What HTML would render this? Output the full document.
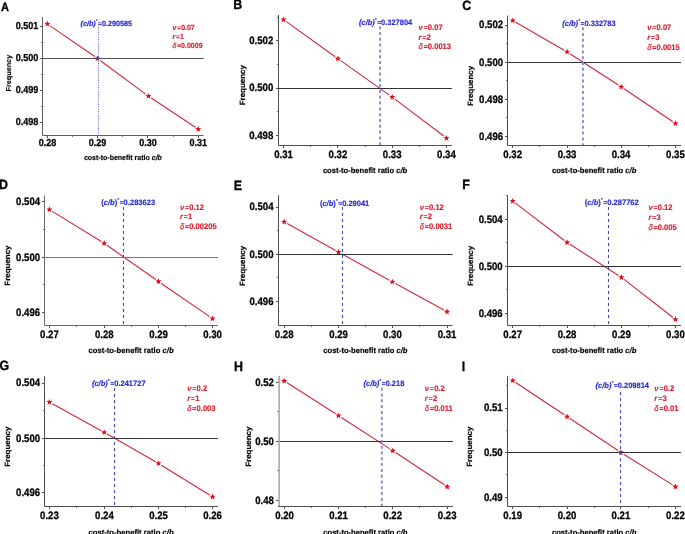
<!DOCTYPE html>
<html><head><meta charset="utf-8"><style>
html,body{margin:0;padding:0;background:#fff;}
svg{display:block;font-family:"Liberation Sans",sans-serif;text-rendering:geometricPrecision;}
</style></head><body>
<svg width="685" height="534" viewBox="0 0 685 534">
<defs><filter id="bl" x="0" y="0" width="100%" height="100%"><feGaussianBlur stdDeviation="0.4"/></filter></defs>
<rect width="685" height="534" fill="#fff"/>
<g filter="url(#bl)">
<rect width="685" height="534" fill="#fff"/>
<text transform="translate(0.90,11.40) scale(1,1.09)" font-size="11.0" font-weight="bold" fill="#000" stroke="#000" stroke-width="0.3">A</text>
<path d="M50.20,25.83L94.70,56.57M100.23,60.52L145.67,94.08M151.23,97.98L195.37,127.32" fill="none" stroke="#d0283a" stroke-width="1.1"/>
<polygon points="47.40,20.70 48.25,22.73 50.44,22.91 48.78,24.35 49.28,26.49 47.40,25.35 45.52,26.49 46.02,24.35 44.36,22.91 46.55,22.73" fill="#e0101e"/>
<polygon points="97.50,55.30 98.35,57.33 100.54,57.51 98.88,58.95 99.38,61.09 97.50,59.95 95.62,61.09 96.12,58.95 94.46,57.51 96.65,57.33" fill="#e0101e"/>
<polygon points="148.40,92.90 149.25,94.93 151.44,95.11 149.78,96.55 150.28,98.69 148.40,97.55 146.52,98.69 147.02,96.55 145.36,95.11 147.55,94.93" fill="#e0101e"/>
<polygon points="198.20,126.00 199.05,128.03 201.24,128.21 199.58,129.65 200.08,131.79 198.20,130.65 196.32,131.79 196.82,129.65 195.16,128.21 197.35,128.03" fill="#e0101e"/>
<line x1="42.5" y1="58.5" x2="203.6" y2="58.5" stroke="#505050" stroke-width="1"/>
<line x1="98.5" y1="27" x2="98.5" y2="135.5" stroke="#4848e0" stroke-width="0.9" stroke-dasharray="1 1.4"/>
<path d="M42.5,17 V135.5 H203.6" fill="none" stroke="#606060" stroke-width="1"/>
<line x1="47.5" x2="47.5" y1="135.5" y2="138.0" stroke="#505050" stroke-width="1"/>
<text transform="translate(47.40,146.10) scale(1,1.12)" font-size="9.0" font-weight="bold" fill="#000" stroke="#000" stroke-width="0.25" text-anchor="middle">0.28</text>
<line x1="97.5" x2="97.5" y1="135.5" y2="138.0" stroke="#505050" stroke-width="1"/>
<text transform="translate(97.50,146.10) scale(1,1.12)" font-size="9.0" font-weight="bold" fill="#000" stroke="#000" stroke-width="0.25" text-anchor="middle">0.29</text>
<line x1="147.5" x2="147.5" y1="135.5" y2="138.0" stroke="#505050" stroke-width="1"/>
<text transform="translate(147.90,146.10) scale(1,1.12)" font-size="9.0" font-weight="bold" fill="#000" stroke="#000" stroke-width="0.25" text-anchor="middle">0.30</text>
<line x1="198.5" x2="198.5" y1="135.5" y2="138.0" stroke="#505050" stroke-width="1"/>
<text transform="translate(198.20,146.10) scale(1,1.12)" font-size="9.0" font-weight="bold" fill="#000" stroke="#000" stroke-width="0.25" text-anchor="middle">0.31</text>
<line x1="72.5" y1="135.5" x2="72.5" y2="137.0" stroke="#505050" stroke-width="0.8"/>
<line x1="122.5" y1="135.5" x2="122.5" y2="137.0" stroke="#505050" stroke-width="0.8"/>
<line x1="173.5" y1="135.5" x2="173.5" y2="137.0" stroke="#505050" stroke-width="0.8"/>
<line x1="42.5" y1="26.5" x2="40.0" y2="26.5" stroke="#505050" stroke-width="1"/>
<text transform="translate(38.20,28.80) scale(1,1.12)" font-size="9.0" font-weight="bold" fill="#000" stroke="#000" stroke-width="0.25" text-anchor="end">0.501</text>
<line x1="42.5" y1="58.5" x2="40.0" y2="58.5" stroke="#505050" stroke-width="1"/>
<text transform="translate(38.20,60.90) scale(1,1.12)" font-size="9.0" font-weight="bold" fill="#000" stroke="#000" stroke-width="0.25" text-anchor="end">0.500</text>
<line x1="42.5" y1="90.5" x2="40.0" y2="90.5" stroke="#505050" stroke-width="1"/>
<text transform="translate(38.20,92.90) scale(1,1.12)" font-size="9.0" font-weight="bold" fill="#000" stroke="#000" stroke-width="0.25" text-anchor="end">0.499</text>
<line x1="42.5" y1="122.5" x2="40.0" y2="122.5" stroke="#505050" stroke-width="1"/>
<text transform="translate(38.20,124.80) scale(1,1.12)" font-size="9.0" font-weight="bold" fill="#000" stroke="#000" stroke-width="0.25" text-anchor="end">0.498</text>
<line x1="42.5" y1="42.5" x2="41.0" y2="42.5" stroke="#505050" stroke-width="0.8"/>
<line x1="42.5" y1="74.5" x2="41.0" y2="74.5" stroke="#505050" stroke-width="0.8"/>
<line x1="42.5" y1="106.5" x2="41.0" y2="106.5" stroke="#505050" stroke-width="0.8"/>
<text transform="translate(80.50,25.80) scale(1,1.06)" font-size="7.0" font-weight="bold" fill="#2a2ad2" stroke="#2a2ad2" stroke-width="0.15" textLength="51.6" lengthAdjust="spacingAndGlyphs"><tspan font-style="italic">(c/b)</tspan><tspan dx="0.3" dy="-3.6" font-size="3.85">*</tspan><tspan dx="0.5" dy="3.6" font-size="6.30">=</tspan>0.290585</text>
<text transform="translate(172.50,30.00) scale(1,1.06)" font-size="7.0" font-weight="bold" fill="#dc1e30" stroke="#dc1e30" stroke-width="0.15"><tspan font-style="italic">ν</tspan><tspan dx="0.84" font-size="6.30">=</tspan><tspan dx="0.2">0.07</tspan></text>
<text transform="translate(172.50,39.20) scale(1,1.06)" font-size="7.0" font-weight="bold" fill="#dc1e30" stroke="#dc1e30" stroke-width="0.15"><tspan font-style="italic">r</tspan><tspan dx="0.84" font-size="6.30">=</tspan><tspan dx="0.2">1</tspan></text>
<text transform="translate(172.50,48.20) scale(1,1.06)" font-size="7.0" font-weight="bold" fill="#dc1e30" stroke="#dc1e30" stroke-width="0.15"><tspan font-style="italic" font-weight="normal" stroke-width="0.3" fill-opacity="0.85">δ</tspan><tspan dx="0.84" font-size="6.30" font-weight="normal" stroke-width="0.3">=</tspan><tspan dx="0.2">0.0009</tspan></text>
<text transform="translate(83.90,160.00) scale(1,1.06)" font-size="7.0" font-weight="bold" fill="#000" stroke="#000" stroke-width="0.15" textLength="78.0" lengthAdjust="spacingAndGlyphs">cost-to-benefit ratio <tspan font-style="italic">c/b</tspan></text>
<text transform="translate(11.00,73.15) rotate(-90) scale(1.035,1)" font-size="7.0" font-weight="bold" stroke="#000" stroke-width="0.15" text-anchor="middle">Frequency</text>
<text transform="translate(233.20,9.20) scale(1,1.09)" font-size="12.4" font-weight="bold" fill="#000" stroke="#000" stroke-width="0.3">B</text>
<path d="M286.36,21.59L335.14,56.71M340.68,60.66L389.42,95.14M394.91,99.15L443.69,136.05" fill="none" stroke="#d0283a" stroke-width="1.1"/>
<polygon points="283.60,16.40 284.45,18.43 286.64,18.61 284.98,20.05 285.48,22.19 283.60,21.05 281.72,22.19 282.22,20.05 280.56,18.61 282.75,18.43" fill="#e0101e"/>
<polygon points="337.90,55.50 338.75,57.53 340.94,57.71 339.28,59.15 339.78,61.29 337.90,60.15 336.02,61.29 336.52,59.15 334.86,57.71 337.05,57.53" fill="#e0101e"/>
<polygon points="392.20,93.90 393.05,95.93 395.24,96.11 393.58,97.55 394.08,99.69 392.20,98.55 390.32,99.69 390.82,97.55 389.16,96.11 391.35,95.93" fill="#e0101e"/>
<polygon points="446.40,134.90 447.25,136.93 449.44,137.11 447.78,138.55 448.28,140.69 446.40,139.55 444.52,140.69 445.02,138.55 443.36,137.11 445.55,136.93" fill="#e0101e"/>
<line x1="278.5" y1="88.5" x2="451.8" y2="88.5" stroke="#333" stroke-width="1"/>
<line x1="380.1" y1="26.2" x2="380.1" y2="145.5" stroke="#8585cc" stroke-width="1.8" stroke-dasharray="3 2.8"/>
<path d="M278.5,15 V145.5 H451.8" fill="none" stroke="#505050" stroke-width="1"/>
<line x1="283.5" x2="283.5" y1="145.5" y2="148.0" stroke="#505050" stroke-width="1"/>
<text transform="translate(283.60,157.60) scale(1,1.12)" font-size="9.6" font-weight="bold" fill="#000" stroke="#000" stroke-width="0.25" text-anchor="middle">0.31</text>
<line x1="337.5" x2="337.5" y1="145.5" y2="148.0" stroke="#505050" stroke-width="1"/>
<text transform="translate(337.90,157.60) scale(1,1.12)" font-size="9.6" font-weight="bold" fill="#000" stroke="#000" stroke-width="0.25" text-anchor="middle">0.32</text>
<line x1="392.5" x2="392.5" y1="145.5" y2="148.0" stroke="#505050" stroke-width="1"/>
<text transform="translate(392.20,157.60) scale(1,1.12)" font-size="9.6" font-weight="bold" fill="#000" stroke="#000" stroke-width="0.25" text-anchor="middle">0.33</text>
<line x1="446.5" x2="446.5" y1="145.5" y2="148.0" stroke="#505050" stroke-width="1"/>
<text transform="translate(446.40,157.60) scale(1,1.12)" font-size="9.6" font-weight="bold" fill="#000" stroke="#000" stroke-width="0.25" text-anchor="middle">0.34</text>
<line x1="310.5" y1="145.5" x2="310.5" y2="147.0" stroke="#505050" stroke-width="0.8"/>
<line x1="365.5" y1="145.5" x2="365.5" y2="147.0" stroke="#505050" stroke-width="0.8"/>
<line x1="419.5" y1="145.5" x2="419.5" y2="147.0" stroke="#505050" stroke-width="0.8"/>
<line x1="278.5" y1="40.5" x2="276.0" y2="40.5" stroke="#505050" stroke-width="1"/>
<text transform="translate(273.30,44.00) scale(1,1.12)" font-size="9.6" font-weight="bold" fill="#000" stroke="#000" stroke-width="0.25" text-anchor="end">0.502</text>
<line x1="278.5" y1="88.5" x2="276.0" y2="88.5" stroke="#505050" stroke-width="1"/>
<text transform="translate(273.30,91.40) scale(1,1.12)" font-size="9.6" font-weight="bold" fill="#000" stroke="#000" stroke-width="0.25" text-anchor="end">0.500</text>
<line x1="278.5" y1="135.5" x2="276.0" y2="135.5" stroke="#505050" stroke-width="1"/>
<text transform="translate(273.30,138.60) scale(1,1.12)" font-size="9.6" font-weight="bold" fill="#000" stroke="#000" stroke-width="0.25" text-anchor="end">0.498</text>
<line x1="278.5" y1="64.5" x2="277.0" y2="64.5" stroke="#505050" stroke-width="0.8"/>
<line x1="278.5" y1="111.5" x2="277.0" y2="111.5" stroke="#505050" stroke-width="0.8"/>
<line x1="278.5" y1="17.5" x2="277.0" y2="17.5" stroke="#505050" stroke-width="0.8"/>
<text transform="translate(359.00,25.00) scale(1,1.06)" font-size="7.4" font-weight="bold" fill="#2a2ad2" stroke="#2a2ad2" stroke-width="0.15" textLength="53.2" lengthAdjust="spacingAndGlyphs"><tspan font-style="italic">(c/b)</tspan><tspan dx="0.3" dy="-3.6" font-size="4.07">*</tspan><tspan dx="0.5" dy="3.6" font-size="6.66">=</tspan>0.327804</text>
<text transform="translate(418.50,29.50) scale(1,1.06)" font-size="7.6" font-weight="bold" fill="#dc1e30" stroke="#dc1e30" stroke-width="0.15"><tspan font-style="italic">ν</tspan><tspan dx="0.91" font-size="6.84">=</tspan><tspan dx="0.2">0.07</tspan></text>
<text transform="translate(418.50,39.60) scale(1,1.06)" font-size="7.6" font-weight="bold" fill="#dc1e30" stroke="#dc1e30" stroke-width="0.15"><tspan font-style="italic">r</tspan><tspan dx="0.91" font-size="6.84">=</tspan><tspan dx="0.2">2</tspan></text>
<text transform="translate(418.50,49.40) scale(1,1.06)" font-size="7.6" font-weight="bold" fill="#dc1e30" stroke="#dc1e30" stroke-width="0.15"><tspan font-style="italic" font-weight="normal" stroke-width="0.3" fill-opacity="0.85">δ</tspan><tspan dx="0.91" font-size="6.84" font-weight="normal" stroke-width="0.3">=</tspan><tspan dx="0.2">0.0013</tspan></text>
<text transform="translate(322.90,172.70) scale(1,1.06)" font-size="7.4" font-weight="bold" fill="#000" stroke="#000" stroke-width="0.15" textLength="84.3" lengthAdjust="spacingAndGlyphs">cost-to-benefit ratio <tspan font-style="italic">c/b</tspan></text>
<text transform="translate(244.60,85.20) rotate(-90) scale(1.035,1)" font-size="7.7" font-weight="bold" stroke="#000" stroke-width="0.15" text-anchor="middle">Frequency</text>
<text transform="translate(462.30,10.10) scale(1,1.09)" font-size="12.4" font-weight="bold" fill="#000" stroke="#000" stroke-width="0.3">C</text>
<path d="M515.75,22.30L564.15,50.20M569.95,53.75L618.35,85.05M624.02,88.80L672.58,121.50" fill="none" stroke="#d0283a" stroke-width="1.1"/>
<polygon points="512.80,17.40 513.65,19.43 515.84,19.61 514.18,21.05 514.68,23.19 512.80,22.05 510.92,23.19 511.42,21.05 509.76,19.61 511.95,19.43" fill="#e0101e"/>
<polygon points="567.10,48.70 567.95,50.73 570.14,50.91 568.48,52.35 568.98,54.49 567.10,53.35 565.22,54.49 565.72,52.35 564.06,50.91 566.25,50.73" fill="#e0101e"/>
<polygon points="621.20,83.70 622.05,85.73 624.24,85.91 622.58,87.35 623.08,89.49 621.20,88.35 619.32,89.49 619.82,87.35 618.16,85.91 620.35,85.73" fill="#e0101e"/>
<polygon points="675.40,120.20 676.25,122.23 678.44,122.41 676.78,123.85 677.28,125.99 675.40,124.85 673.52,125.99 674.02,123.85 672.36,122.41 674.55,122.23" fill="#e0101e"/>
<line x1="507.5" y1="62.5" x2="681" y2="62.5" stroke="#333" stroke-width="1"/>
<line x1="582.9" y1="27.2" x2="582.9" y2="145.5" stroke="#8585cc" stroke-width="1.8" stroke-dasharray="3 2.8"/>
<path d="M507.5,15.5 V145.5 H681" fill="none" stroke="#505050" stroke-width="1"/>
<line x1="512.5" x2="512.5" y1="145.5" y2="148.0" stroke="#505050" stroke-width="1"/>
<text transform="translate(512.70,157.60) scale(1,1.12)" font-size="9.6" font-weight="bold" fill="#000" stroke="#000" stroke-width="0.25" text-anchor="middle">0.32</text>
<line x1="567.5" x2="567.5" y1="145.5" y2="148.0" stroke="#505050" stroke-width="1"/>
<text transform="translate(567.00,157.60) scale(1,1.12)" font-size="9.6" font-weight="bold" fill="#000" stroke="#000" stroke-width="0.25" text-anchor="middle">0.33</text>
<line x1="621.5" x2="621.5" y1="145.5" y2="148.0" stroke="#505050" stroke-width="1"/>
<text transform="translate(621.10,157.60) scale(1,1.12)" font-size="9.6" font-weight="bold" fill="#000" stroke="#000" stroke-width="0.25" text-anchor="middle">0.34</text>
<line x1="675.5" x2="675.5" y1="145.5" y2="148.0" stroke="#505050" stroke-width="1"/>
<text transform="translate(675.40,157.60) scale(1,1.12)" font-size="9.6" font-weight="bold" fill="#000" stroke="#000" stroke-width="0.25" text-anchor="middle">0.35</text>
<line x1="539.5" y1="145.5" x2="539.5" y2="147.0" stroke="#505050" stroke-width="0.8"/>
<line x1="594.5" y1="145.5" x2="594.5" y2="147.0" stroke="#505050" stroke-width="0.8"/>
<line x1="648.5" y1="145.5" x2="648.5" y2="147.0" stroke="#505050" stroke-width="0.8"/>
<line x1="507.5" y1="25.5" x2="505.0" y2="25.5" stroke="#505050" stroke-width="1"/>
<text transform="translate(503.10,28.40) scale(1,1.12)" font-size="9.6" font-weight="bold" fill="#000" stroke="#000" stroke-width="0.25" text-anchor="end">0.502</text>
<line x1="507.5" y1="62.5" x2="505.0" y2="62.5" stroke="#505050" stroke-width="1"/>
<text transform="translate(503.10,65.80) scale(1,1.12)" font-size="9.6" font-weight="bold" fill="#000" stroke="#000" stroke-width="0.25" text-anchor="end">0.500</text>
<line x1="507.5" y1="99.5" x2="505.0" y2="99.5" stroke="#505050" stroke-width="1"/>
<text transform="translate(503.10,102.70) scale(1,1.12)" font-size="9.6" font-weight="bold" fill="#000" stroke="#000" stroke-width="0.25" text-anchor="end">0.498</text>
<line x1="507.5" y1="136.5" x2="505.0" y2="136.5" stroke="#505050" stroke-width="1"/>
<text transform="translate(503.10,139.80) scale(1,1.12)" font-size="9.6" font-weight="bold" fill="#000" stroke="#000" stroke-width="0.25" text-anchor="end">0.496</text>
<line x1="507.5" y1="43.5" x2="506.0" y2="43.5" stroke="#505050" stroke-width="0.8"/>
<line x1="507.5" y1="80.5" x2="506.0" y2="80.5" stroke="#505050" stroke-width="0.8"/>
<line x1="507.5" y1="117.5" x2="506.0" y2="117.5" stroke="#505050" stroke-width="0.8"/>
<text transform="translate(562.30,26.10) scale(1,1.06)" font-size="7.4" font-weight="bold" fill="#2a2ad2" stroke="#2a2ad2" stroke-width="0.15" textLength="53.3" lengthAdjust="spacingAndGlyphs"><tspan font-style="italic">(c/b)</tspan><tspan dx="0.3" dy="-3.6" font-size="4.07">*</tspan><tspan dx="0.5" dy="3.6" font-size="6.66">=</tspan>0.332783</text>
<text transform="translate(647.20,30.00) scale(1,1.06)" font-size="7.6" font-weight="bold" fill="#dc1e30" stroke="#dc1e30" stroke-width="0.15"><tspan font-style="italic">ν</tspan><tspan dx="0.91" font-size="6.84">=</tspan><tspan dx="0.2">0.07</tspan></text>
<text transform="translate(647.20,40.10) scale(1,1.06)" font-size="7.6" font-weight="bold" fill="#dc1e30" stroke="#dc1e30" stroke-width="0.15"><tspan font-style="italic">r</tspan><tspan dx="0.91" font-size="6.84">=</tspan><tspan dx="0.2">3</tspan></text>
<text transform="translate(647.20,50.30) scale(1,1.06)" font-size="7.6" font-weight="bold" fill="#dc1e30" stroke="#dc1e30" stroke-width="0.15"><tspan font-style="italic" font-weight="normal" stroke-width="0.3" fill-opacity="0.85">δ</tspan><tspan dx="0.91" font-size="6.84" font-weight="normal" stroke-width="0.3">=</tspan><tspan dx="0.2">0.0015</tspan></text>
<text transform="translate(552.00,172.90) scale(1,1.06)" font-size="7.4" font-weight="bold" fill="#000" stroke="#000" stroke-width="0.15" textLength="84.3" lengthAdjust="spacingAndGlyphs">cost-to-benefit ratio <tspan font-style="italic">c/b</tspan></text>
<text transform="translate(473.30,85.90) rotate(-90) scale(1.035,1)" font-size="7.7" font-weight="bold" stroke="#000" stroke-width="0.15" text-anchor="middle">Frequency</text>
<text transform="translate(-0.90,189.40) scale(1,1.09)" font-size="12.4" font-weight="bold" fill="#000" stroke="#000" stroke-width="0.3">D</text>
<path d="M52.30,211.38L101.30,241.52M106.98,245.26L155.72,279.54M161.30,283.43L209.70,316.67" fill="none" stroke="#d0283a" stroke-width="1.1"/>
<polygon points="49.40,206.40 50.25,208.43 52.44,208.61 50.78,210.05 51.28,212.19 49.40,211.05 47.52,212.19 48.02,210.05 46.36,208.61 48.55,208.43" fill="#e0101e"/>
<polygon points="104.20,240.10 105.05,242.13 107.24,242.31 105.58,243.75 106.08,245.89 104.20,244.75 102.32,245.89 102.82,243.75 101.16,242.31 103.35,242.13" fill="#e0101e"/>
<polygon points="158.50,278.30 159.35,280.33 161.54,280.51 159.88,281.95 160.38,284.09 158.50,282.95 156.62,284.09 157.12,281.95 155.46,280.51 157.65,280.33" fill="#e0101e"/>
<polygon points="212.50,315.40 213.35,317.43 215.54,317.61 213.88,319.05 214.38,321.19 212.50,320.05 210.62,321.19 211.12,319.05 209.46,317.61 211.65,317.43" fill="#e0101e"/>
<line x1="44.5" y1="257.5" x2="217.9" y2="257.5" stroke="#7a7a7a" stroke-width="1"/>
<line x1="123.5" y1="207" x2="123.5" y2="325.5" stroke="#4646b0" stroke-width="1.1" stroke-dasharray="3 3"/>
<path d="M44.5,195.6 V325.5 H217.9" fill="none" stroke="#6a6a6a" stroke-width="1"/>
<line x1="49.5" x2="49.5" y1="325.5" y2="328.0" stroke="#505050" stroke-width="1"/>
<text transform="translate(49.40,337.70) scale(1,1.12)" font-size="9.6" font-weight="bold" fill="#000" stroke="#000" stroke-width="0.25" text-anchor="middle">0.27</text>
<line x1="104.5" x2="104.5" y1="325.5" y2="328.0" stroke="#505050" stroke-width="1"/>
<text transform="translate(104.30,337.70) scale(1,1.12)" font-size="9.6" font-weight="bold" fill="#000" stroke="#000" stroke-width="0.25" text-anchor="middle">0.28</text>
<line x1="158.5" x2="158.5" y1="325.5" y2="328.0" stroke="#505050" stroke-width="1"/>
<text transform="translate(158.50,337.70) scale(1,1.12)" font-size="9.6" font-weight="bold" fill="#000" stroke="#000" stroke-width="0.25" text-anchor="middle">0.29</text>
<line x1="212.5" x2="212.5" y1="325.5" y2="328.0" stroke="#505050" stroke-width="1"/>
<text transform="translate(212.50,337.70) scale(1,1.12)" font-size="9.6" font-weight="bold" fill="#000" stroke="#000" stroke-width="0.25" text-anchor="middle">0.30</text>
<line x1="76.5" y1="325.5" x2="76.5" y2="327.0" stroke="#505050" stroke-width="0.8"/>
<line x1="131.5" y1="325.5" x2="131.5" y2="327.0" stroke="#505050" stroke-width="0.8"/>
<line x1="185.5" y1="325.5" x2="185.5" y2="327.0" stroke="#505050" stroke-width="0.8"/>
<line x1="44.5" y1="201.5" x2="42.0" y2="201.5" stroke="#505050" stroke-width="1"/>
<text transform="translate(40.10,204.50) scale(1,1.12)" font-size="9.6" font-weight="bold" fill="#000" stroke="#000" stroke-width="0.25" text-anchor="end">0.504</text>
<line x1="44.5" y1="257.5" x2="42.0" y2="257.5" stroke="#505050" stroke-width="1"/>
<text transform="translate(40.10,260.50) scale(1,1.12)" font-size="9.6" font-weight="bold" fill="#000" stroke="#000" stroke-width="0.25" text-anchor="end">0.500</text>
<line x1="44.5" y1="312.5" x2="42.0" y2="312.5" stroke="#505050" stroke-width="1"/>
<text transform="translate(40.10,316.10) scale(1,1.12)" font-size="9.6" font-weight="bold" fill="#000" stroke="#000" stroke-width="0.25" text-anchor="end">0.496</text>
<line x1="44.5" y1="229.5" x2="43.0" y2="229.5" stroke="#505050" stroke-width="0.8"/>
<line x1="44.5" y1="284.5" x2="43.0" y2="284.5" stroke="#505050" stroke-width="0.8"/>
<text transform="translate(101.20,204.50) scale(1,1.06)" font-size="7.4" font-weight="bold" fill="#2a2ad2" stroke="#2a2ad2" stroke-width="0.15" textLength="54.0" lengthAdjust="spacingAndGlyphs">(<tspan font-style="italic">c/b</tspan>)<tspan dx="0.3" dy="-3.6" font-size="4.07">*</tspan><tspan dx="0.5" dy="3.6" font-size="6.66">=</tspan>0.283623</text>
<text transform="translate(179.90,209.60) scale(1,1.06)" font-size="7.6" font-weight="bold" fill="#dc1e30" stroke="#dc1e30" stroke-width="0.15"><tspan font-style="italic">ν</tspan><tspan dx="0.91" font-size="6.84">=</tspan><tspan dx="0.2">0.12</tspan></text>
<text transform="translate(179.90,219.20) scale(1,1.06)" font-size="7.6" font-weight="bold" fill="#dc1e30" stroke="#dc1e30" stroke-width="0.15"><tspan font-style="italic">r</tspan><tspan dx="0.91" font-size="6.84">=</tspan><tspan dx="0.2">1</tspan></text>
<text transform="translate(179.90,229.30) scale(1,1.06)" font-size="7.6" font-weight="bold" fill="#dc1e30" stroke="#dc1e30" stroke-width="0.15"><tspan font-style="italic" font-weight="normal" stroke-width="0.3" fill-opacity="0.85">δ</tspan><tspan dx="0.91" font-size="6.84" font-weight="normal" stroke-width="0.3">=</tspan><tspan dx="0.2">0.00205</tspan></text>
<text transform="translate(88.50,352.70) scale(1,1.06)" font-size="7.4" font-weight="bold" fill="#000" stroke="#000" stroke-width="0.15" textLength="85.1" lengthAdjust="spacingAndGlyphs">cost-to-benefit ratio <tspan font-style="italic">c/b</tspan></text>
<text transform="translate(10.00,265.60) rotate(-90) scale(1.035,1)" font-size="7.7" font-weight="bold" stroke="#000" stroke-width="0.15" text-anchor="middle">Frequency</text>
<text transform="translate(233.70,189.50) scale(1,1.09)" font-size="12.4" font-weight="bold" fill="#000" stroke="#000" stroke-width="0.3">E</text>
<path d="M287.17,223.56L335.53,250.54M341.48,253.84L389.42,280.26M395.38,283.53L444.02,310.07" fill="none" stroke="#d0283a" stroke-width="1.1"/>
<polygon points="284.20,218.70 285.05,220.73 287.24,220.91 285.58,222.35 286.08,224.49 284.20,223.35 282.32,224.49 282.82,222.35 281.16,220.91 283.35,220.73" fill="#e0101e"/>
<polygon points="338.50,249.00 339.35,251.03 341.54,251.21 339.88,252.65 340.38,254.79 338.50,253.65 336.62,254.79 337.12,252.65 335.46,251.21 337.65,251.03" fill="#e0101e"/>
<polygon points="392.40,278.70 393.25,280.73 395.44,280.91 393.78,282.35 394.28,284.49 392.40,283.35 390.52,284.49 391.02,282.35 389.36,280.91 391.55,280.73" fill="#e0101e"/>
<polygon points="447.00,308.50 447.85,310.53 450.04,310.71 448.38,312.15 448.88,314.29 447.00,313.15 445.12,314.29 445.62,312.15 443.96,310.71 446.15,310.53" fill="#e0101e"/>
<line x1="278.5" y1="254.5" x2="452.6" y2="254.5" stroke="#333" stroke-width="1"/>
<line x1="342.5" y1="207" x2="342.5" y2="325.5" stroke="#4646b0" stroke-width="1.1" stroke-dasharray="3 3"/>
<path d="M278.5,195.2 V325.5 H452.6" fill="none" stroke="#505050" stroke-width="1"/>
<line x1="284.5" x2="284.5" y1="325.5" y2="328.0" stroke="#505050" stroke-width="1"/>
<text transform="translate(284.20,337.70) scale(1,1.12)" font-size="9.6" font-weight="bold" fill="#000" stroke="#000" stroke-width="0.25" text-anchor="middle">0.28</text>
<line x1="338.5" x2="338.5" y1="325.5" y2="328.0" stroke="#505050" stroke-width="1"/>
<text transform="translate(338.50,337.70) scale(1,1.12)" font-size="9.6" font-weight="bold" fill="#000" stroke="#000" stroke-width="0.25" text-anchor="middle">0.29</text>
<line x1="392.5" x2="392.5" y1="325.5" y2="328.0" stroke="#505050" stroke-width="1"/>
<text transform="translate(392.40,337.70) scale(1,1.12)" font-size="9.6" font-weight="bold" fill="#000" stroke="#000" stroke-width="0.25" text-anchor="middle">0.30</text>
<line x1="447.5" x2="447.5" y1="325.5" y2="328.0" stroke="#505050" stroke-width="1"/>
<text transform="translate(447.00,337.70) scale(1,1.12)" font-size="9.6" font-weight="bold" fill="#000" stroke="#000" stroke-width="0.25" text-anchor="middle">0.31</text>
<line x1="311.5" y1="325.5" x2="311.5" y2="327.0" stroke="#505050" stroke-width="0.8"/>
<line x1="365.5" y1="325.5" x2="365.5" y2="327.0" stroke="#505050" stroke-width="0.8"/>
<line x1="419.5" y1="325.5" x2="419.5" y2="327.0" stroke="#505050" stroke-width="0.8"/>
<line x1="278.5" y1="207.5" x2="276.0" y2="207.5" stroke="#505050" stroke-width="1"/>
<text transform="translate(273.50,210.40) scale(1,1.12)" font-size="9.6" font-weight="bold" fill="#000" stroke="#000" stroke-width="0.25" text-anchor="end">0.504</text>
<line x1="278.5" y1="254.5" x2="276.0" y2="254.5" stroke="#505050" stroke-width="1"/>
<text transform="translate(273.50,257.70) scale(1,1.12)" font-size="9.6" font-weight="bold" fill="#000" stroke="#000" stroke-width="0.25" text-anchor="end">0.500</text>
<line x1="278.5" y1="301.5" x2="276.0" y2="301.5" stroke="#505050" stroke-width="1"/>
<text transform="translate(273.50,304.70) scale(1,1.12)" font-size="9.6" font-weight="bold" fill="#000" stroke="#000" stroke-width="0.25" text-anchor="end">0.496</text>
<line x1="278.5" y1="230.5" x2="277.0" y2="230.5" stroke="#505050" stroke-width="0.8"/>
<line x1="278.5" y1="277.5" x2="277.0" y2="277.5" stroke="#505050" stroke-width="0.8"/>
<text transform="translate(319.90,206.00) scale(1,1.06)" font-size="7.4" font-weight="bold" fill="#2a2ad2" stroke="#2a2ad2" stroke-width="0.15" textLength="49.4" lengthAdjust="spacingAndGlyphs">(<tspan font-style="italic">c/b</tspan>)<tspan dx="0.3" dy="-3.6" font-size="4.07">*</tspan><tspan dx="0.5" dy="3.6" font-size="6.66">=</tspan>0.29041</text>
<text transform="translate(419.70,209.60) scale(1,1.06)" font-size="7.6" font-weight="bold" fill="#dc1e30" stroke="#dc1e30" stroke-width="0.15"><tspan font-style="italic">ν</tspan><tspan dx="0.91" font-size="6.84">=</tspan><tspan dx="0.2">0.12</tspan></text>
<text transform="translate(419.70,219.20) scale(1,1.06)" font-size="7.6" font-weight="bold" fill="#dc1e30" stroke="#dc1e30" stroke-width="0.15"><tspan font-style="italic">r</tspan><tspan dx="0.91" font-size="6.84">=</tspan><tspan dx="0.2">2</tspan></text>
<text transform="translate(419.70,229.30) scale(1,1.06)" font-size="7.6" font-weight="bold" fill="#dc1e30" stroke="#dc1e30" stroke-width="0.15"><tspan font-style="italic" font-weight="normal" stroke-width="0.3" fill-opacity="0.85">δ</tspan><tspan dx="0.91" font-size="6.84" font-weight="normal" stroke-width="0.3">=</tspan><tspan dx="0.2">0.0031</tspan></text>
<text transform="translate(323.30,352.50) scale(1,1.06)" font-size="7.4" font-weight="bold" fill="#000" stroke="#000" stroke-width="0.15" textLength="84.2" lengthAdjust="spacingAndGlyphs">cost-to-benefit ratio <tspan font-style="italic">c/b</tspan></text>
<text transform="translate(244.60,266.00) rotate(-90) scale(1.035,1)" font-size="7.7" font-weight="bold" stroke="#000" stroke-width="0.15" text-anchor="middle">Frequency</text>
<text transform="translate(462.20,189.40) scale(1,1.09)" font-size="12.4" font-weight="bold" fill="#000" stroke="#000" stroke-width="0.3">F</text>
<path d="M515.41,203.16L564.39,240.44M569.96,244.33L618.54,275.47M624.08,279.39L672.72,317.21" fill="none" stroke="#d0283a" stroke-width="1.1"/>
<polygon points="512.70,197.90 513.55,199.93 515.74,200.11 514.08,201.55 514.58,203.69 512.70,202.55 510.82,203.69 511.32,201.55 509.66,200.11 511.85,199.93" fill="#e0101e"/>
<polygon points="567.10,239.30 567.95,241.33 570.14,241.51 568.48,242.95 568.98,245.09 567.10,243.95 565.22,245.09 565.72,242.95 564.06,241.51 566.25,241.33" fill="#e0101e"/>
<polygon points="621.40,274.10 622.25,276.13 624.44,276.31 622.78,277.75 623.28,279.89 621.40,278.75 619.52,279.89 620.02,277.75 618.36,276.31 620.55,276.13" fill="#e0101e"/>
<polygon points="675.40,316.10 676.25,318.13 678.44,318.31 676.78,319.75 677.28,321.89 675.40,320.75 673.52,321.89 674.02,319.75 672.36,318.31 674.55,318.13" fill="#e0101e"/>
<line x1="507.5" y1="266.5" x2="681" y2="266.5" stroke="#333" stroke-width="1"/>
<line x1="608.5" y1="207" x2="608.5" y2="325.5" stroke="#4646b0" stroke-width="1.1" stroke-dasharray="3 3"/>
<path d="M507.5,195.2 V325.5 H681" fill="none" stroke="#505050" stroke-width="1"/>
<line x1="512.5" x2="512.5" y1="325.5" y2="328.0" stroke="#505050" stroke-width="1"/>
<text transform="translate(512.70,337.70) scale(1,1.12)" font-size="9.6" font-weight="bold" fill="#000" stroke="#000" stroke-width="0.25" text-anchor="middle">0.27</text>
<line x1="567.5" x2="567.5" y1="325.5" y2="328.0" stroke="#505050" stroke-width="1"/>
<text transform="translate(567.10,337.70) scale(1,1.12)" font-size="9.6" font-weight="bold" fill="#000" stroke="#000" stroke-width="0.25" text-anchor="middle">0.28</text>
<line x1="621.5" x2="621.5" y1="325.5" y2="328.0" stroke="#505050" stroke-width="1"/>
<text transform="translate(621.40,337.70) scale(1,1.12)" font-size="9.6" font-weight="bold" fill="#000" stroke="#000" stroke-width="0.25" text-anchor="middle">0.29</text>
<line x1="675.5" x2="675.5" y1="325.5" y2="328.0" stroke="#505050" stroke-width="1"/>
<text transform="translate(675.40,337.70) scale(1,1.12)" font-size="9.6" font-weight="bold" fill="#000" stroke="#000" stroke-width="0.25" text-anchor="middle">0.30</text>
<line x1="539.5" y1="325.5" x2="539.5" y2="327.0" stroke="#505050" stroke-width="0.8"/>
<line x1="594.5" y1="325.5" x2="594.5" y2="327.0" stroke="#505050" stroke-width="0.8"/>
<line x1="648.5" y1="325.5" x2="648.5" y2="327.0" stroke="#505050" stroke-width="0.8"/>
<line x1="507.5" y1="219.5" x2="505.0" y2="219.5" stroke="#505050" stroke-width="1"/>
<text transform="translate(502.70,222.60) scale(1,1.12)" font-size="9.6" font-weight="bold" fill="#000" stroke="#000" stroke-width="0.25" text-anchor="end">0.504</text>
<line x1="507.5" y1="266.5" x2="505.0" y2="266.5" stroke="#505050" stroke-width="1"/>
<text transform="translate(502.70,269.70) scale(1,1.12)" font-size="9.6" font-weight="bold" fill="#000" stroke="#000" stroke-width="0.25" text-anchor="end">0.500</text>
<line x1="507.5" y1="313.5" x2="505.0" y2="313.5" stroke="#505050" stroke-width="1"/>
<text transform="translate(502.70,316.80) scale(1,1.12)" font-size="9.6" font-weight="bold" fill="#000" stroke="#000" stroke-width="0.25" text-anchor="end">0.496</text>
<line x1="507.5" y1="242.5" x2="506.0" y2="242.5" stroke="#505050" stroke-width="0.8"/>
<line x1="507.5" y1="289.5" x2="506.0" y2="289.5" stroke="#505050" stroke-width="0.8"/>
<line x1="507.5" y1="195.5" x2="506.0" y2="195.5" stroke="#505050" stroke-width="0.8"/>
<text transform="translate(584.80,205.00) scale(1,1.06)" font-size="7.4" font-weight="bold" fill="#2a2ad2" stroke="#2a2ad2" stroke-width="0.15" textLength="54.0" lengthAdjust="spacingAndGlyphs">(<tspan font-style="italic">c/b</tspan>)<tspan dx="0.3" dy="-3.6" font-size="4.07">*</tspan><tspan dx="0.5" dy="3.6" font-size="6.66">=</tspan>0.287762</text>
<text transform="translate(648.40,209.60) scale(1,1.06)" font-size="7.6" font-weight="bold" fill="#dc1e30" stroke="#dc1e30" stroke-width="0.15"><tspan font-style="italic">ν</tspan><tspan dx="0.91" font-size="6.84">=</tspan><tspan dx="0.2">0.12</tspan></text>
<text transform="translate(648.40,219.70) scale(1,1.06)" font-size="7.6" font-weight="bold" fill="#dc1e30" stroke="#dc1e30" stroke-width="0.15"><tspan font-style="italic">r</tspan><tspan dx="0.91" font-size="6.84">=</tspan><tspan dx="0.2">3</tspan></text>
<text transform="translate(648.40,229.80) scale(1,1.06)" font-size="7.6" font-weight="bold" fill="#dc1e30" stroke="#dc1e30" stroke-width="0.15"><tspan font-style="italic" font-weight="normal" stroke-width="0.3" fill-opacity="0.85">δ</tspan><tspan dx="0.91" font-size="6.84" font-weight="normal" stroke-width="0.3">=</tspan><tspan dx="0.2">0.005</tspan></text>
<text transform="translate(552.00,352.50) scale(1,1.06)" font-size="7.4" font-weight="bold" fill="#000" stroke="#000" stroke-width="0.15" textLength="84.3" lengthAdjust="spacingAndGlyphs">cost-to-benefit ratio <tspan font-style="italic">c/b</tspan></text>
<text transform="translate(473.30,266.00) rotate(-90) scale(1.035,1)" font-size="7.7" font-weight="bold" stroke="#000" stroke-width="0.15" text-anchor="middle">Frequency</text>
<text transform="translate(-0.60,370.30) scale(1,1.09)" font-size="12.4" font-weight="bold" fill="#000" stroke="#000" stroke-width="0.3">G</text>
<path d="M52.38,403.75L101.22,430.75M107.15,434.09L155.55,461.71M161.39,465.19L209.61,495.01" fill="none" stroke="#d0283a" stroke-width="1.1"/>
<polygon points="49.40,398.90 50.25,400.93 52.44,401.11 50.78,402.55 51.28,404.69 49.40,403.55 47.52,404.69 48.02,402.55 46.36,401.11 48.55,400.93" fill="#e0101e"/>
<polygon points="104.20,429.20 105.05,431.23 107.24,431.41 105.58,432.85 106.08,434.99 104.20,433.85 102.32,434.99 102.82,432.85 101.16,431.41 103.35,431.23" fill="#e0101e"/>
<polygon points="158.50,460.20 159.35,462.23 161.54,462.41 159.88,463.85 160.38,465.99 158.50,464.85 156.62,465.99 157.12,463.85 155.46,462.41 157.65,462.23" fill="#e0101e"/>
<polygon points="212.50,493.60 213.35,495.63 215.54,495.81 213.88,497.25 214.38,499.39 212.50,498.25 210.62,499.39 211.12,497.25 209.46,495.81 211.65,495.63" fill="#e0101e"/>
<line x1="44.5" y1="438.5" x2="217.9" y2="438.5" stroke="#333" stroke-width="1"/>
<line x1="114.5" y1="388" x2="114.5" y2="506.5" stroke="#4646b0" stroke-width="1.1" stroke-dasharray="3 3"/>
<path d="M44.5,376.3 V506.5 H217.9" fill="none" stroke="#505050" stroke-width="1"/>
<line x1="49.5" x2="49.5" y1="506.5" y2="509.0" stroke="#505050" stroke-width="1"/>
<text transform="translate(49.40,519.20) scale(1,1.12)" font-size="9.6" font-weight="bold" fill="#000" stroke="#000" stroke-width="0.25" text-anchor="middle">0.23</text>
<line x1="104.5" x2="104.5" y1="506.5" y2="509.0" stroke="#505050" stroke-width="1"/>
<text transform="translate(104.40,519.20) scale(1,1.12)" font-size="9.6" font-weight="bold" fill="#000" stroke="#000" stroke-width="0.25" text-anchor="middle">0.24</text>
<line x1="158.5" x2="158.5" y1="506.5" y2="509.0" stroke="#505050" stroke-width="1"/>
<text transform="translate(158.50,519.20) scale(1,1.12)" font-size="9.6" font-weight="bold" fill="#000" stroke="#000" stroke-width="0.25" text-anchor="middle">0.25</text>
<line x1="212.5" x2="212.5" y1="506.5" y2="509.0" stroke="#505050" stroke-width="1"/>
<text transform="translate(212.50,519.20) scale(1,1.12)" font-size="9.6" font-weight="bold" fill="#000" stroke="#000" stroke-width="0.25" text-anchor="middle">0.26</text>
<line x1="76.5" y1="506.5" x2="76.5" y2="508.0" stroke="#505050" stroke-width="0.8"/>
<line x1="131.5" y1="506.5" x2="131.5" y2="508.0" stroke="#505050" stroke-width="0.8"/>
<line x1="185.5" y1="506.5" x2="185.5" y2="508.0" stroke="#505050" stroke-width="0.8"/>
<line x1="44.5" y1="383.5" x2="42.0" y2="383.5" stroke="#505050" stroke-width="1"/>
<text transform="translate(40.10,386.40) scale(1,1.12)" font-size="9.6" font-weight="bold" fill="#000" stroke="#000" stroke-width="0.25" text-anchor="end">0.504</text>
<line x1="44.5" y1="438.5" x2="42.0" y2="438.5" stroke="#505050" stroke-width="1"/>
<text transform="translate(40.10,441.70) scale(1,1.12)" font-size="9.6" font-weight="bold" fill="#000" stroke="#000" stroke-width="0.25" text-anchor="end">0.500</text>
<line x1="44.5" y1="492.5" x2="42.0" y2="492.5" stroke="#505050" stroke-width="1"/>
<text transform="translate(40.10,496.30) scale(1,1.12)" font-size="9.6" font-weight="bold" fill="#000" stroke="#000" stroke-width="0.25" text-anchor="end">0.496</text>
<line x1="44.5" y1="410.5" x2="43.0" y2="410.5" stroke="#505050" stroke-width="0.8"/>
<line x1="44.5" y1="465.5" x2="43.0" y2="465.5" stroke="#505050" stroke-width="0.8"/>
<text transform="translate(91.90,386.00) scale(1,1.06)" font-size="7.4" font-weight="bold" fill="#2a2ad2" stroke="#2a2ad2" stroke-width="0.15" textLength="53.7" lengthAdjust="spacingAndGlyphs"><tspan font-style="italic">(c/b)</tspan><tspan dx="0.3" dy="-3.6" font-size="4.07">*</tspan><tspan dx="0.5" dy="3.6" font-size="6.66">=</tspan>0.241727</text>
<text transform="translate(187.20,391.10) scale(1,1.06)" font-size="7.6" font-weight="bold" fill="#dc1e30" stroke="#dc1e30" stroke-width="0.15"><tspan font-style="italic">ν</tspan><tspan dx="0.91" font-size="6.84">=</tspan><tspan dx="0.2">0.2</tspan></text>
<text transform="translate(187.20,400.70) scale(1,1.06)" font-size="7.6" font-weight="bold" fill="#dc1e30" stroke="#dc1e30" stroke-width="0.15"><tspan font-style="italic">r</tspan><tspan dx="0.91" font-size="6.84">=</tspan><tspan dx="0.2">1</tspan></text>
<text transform="translate(187.20,410.80) scale(1,1.06)" font-size="7.6" font-weight="bold" fill="#dc1e30" stroke="#dc1e30" stroke-width="0.15"><tspan font-style="italic" font-weight="normal" stroke-width="0.3" fill-opacity="0.85">δ</tspan><tspan dx="0.91" font-size="6.84" font-weight="normal" stroke-width="0.3">=</tspan><tspan dx="0.2">0.003</tspan></text>
<text transform="translate(88.50,535.20) scale(1,1.06)" font-size="7.4" font-weight="bold" fill="#000" stroke="#000" stroke-width="0.15" textLength="85.1" lengthAdjust="spacingAndGlyphs">cost-to-benefit ratio <tspan font-style="italic">c/b</tspan></text>
<text transform="translate(10.20,446.70) rotate(-90) scale(1.035,1)" font-size="7.7" font-weight="bold" stroke="#000" stroke-width="0.15" text-anchor="middle">Frequency</text>
<text transform="translate(234.10,370.60) scale(1,1.09)" font-size="12.4" font-weight="bold" fill="#000" stroke="#000" stroke-width="0.3">H</text>
<path d="M287.07,382.83L335.63,413.77M341.35,417.45L389.85,448.85M395.54,452.57L444.36,484.83" fill="none" stroke="#d0283a" stroke-width="1.1"/>
<polygon points="284.20,377.80 285.05,379.83 287.24,380.01 285.58,381.45 286.08,383.59 284.20,382.45 282.32,383.59 282.82,381.45 281.16,380.01 283.35,379.83" fill="#e0101e"/>
<polygon points="338.50,412.40 339.35,414.43 341.54,414.61 339.88,416.05 340.38,418.19 338.50,417.05 336.62,418.19 337.12,416.05 335.46,414.61 337.65,414.43" fill="#e0101e"/>
<polygon points="392.70,447.50 393.55,449.53 395.74,449.71 394.08,451.15 394.58,453.29 392.70,452.15 390.82,453.29 391.32,451.15 389.66,449.71 391.85,449.53" fill="#e0101e"/>
<polygon points="447.20,483.50 448.05,485.53 450.24,485.71 448.58,487.15 449.08,489.29 447.20,488.15 445.32,489.29 445.82,487.15 444.16,485.71 446.35,485.53" fill="#e0101e"/>
<line x1="278.5" y1="441.5" x2="453" y2="441.5" stroke="#333" stroke-width="1"/>
<line x1="381.8" y1="387.7" x2="381.8" y2="506.5" stroke="#8585cc" stroke-width="1.8" stroke-dasharray="3 2.8"/>
<line x1="279.1" y1="375.9" x2="279.1" y2="506.5" stroke="#a8a8a8" stroke-width="1.6"/>
<line x1="278.0" y1="506.5" x2="453" y2="506.5" stroke="#505050" stroke-width="1"/>
<line x1="284.5" x2="284.5" y1="506.5" y2="509.0" stroke="#505050" stroke-width="1"/>
<text transform="translate(284.50,519.20) scale(1,1.12)" font-size="9.6" font-weight="bold" fill="#000" stroke="#000" stroke-width="0.25" text-anchor="middle">0.20</text>
<line x1="338.5" x2="338.5" y1="506.5" y2="509.0" stroke="#505050" stroke-width="1"/>
<text transform="translate(338.50,519.20) scale(1,1.12)" font-size="9.6" font-weight="bold" fill="#000" stroke="#000" stroke-width="0.25" text-anchor="middle">0.21</text>
<line x1="392.5" x2="392.5" y1="506.5" y2="509.0" stroke="#505050" stroke-width="1"/>
<text transform="translate(392.70,519.20) scale(1,1.12)" font-size="9.6" font-weight="bold" fill="#000" stroke="#000" stroke-width="0.25" text-anchor="middle">0.22</text>
<line x1="447.5" x2="447.5" y1="506.5" y2="509.0" stroke="#505050" stroke-width="1"/>
<text transform="translate(447.20,519.20) scale(1,1.12)" font-size="9.6" font-weight="bold" fill="#000" stroke="#000" stroke-width="0.25" text-anchor="middle">0.23</text>
<line x1="311.5" y1="506.5" x2="311.5" y2="508.0" stroke="#505050" stroke-width="0.8"/>
<line x1="365.5" y1="506.5" x2="365.5" y2="508.0" stroke="#505050" stroke-width="0.8"/>
<line x1="419.5" y1="506.5" x2="419.5" y2="508.0" stroke="#505050" stroke-width="0.8"/>
<line x1="278.5" y1="382.5" x2="276.0" y2="382.5" stroke="#505050" stroke-width="1"/>
<text transform="translate(273.90,385.60) scale(1,1.12)" font-size="9.6" font-weight="bold" fill="#000" stroke="#000" stroke-width="0.25" text-anchor="end">0.52</text>
<line x1="278.5" y1="441.5" x2="276.0" y2="441.5" stroke="#505050" stroke-width="1"/>
<text transform="translate(273.90,444.80) scale(1,1.12)" font-size="9.6" font-weight="bold" fill="#000" stroke="#000" stroke-width="0.25" text-anchor="end">0.50</text>
<line x1="278.5" y1="500.5" x2="276.0" y2="500.5" stroke="#505050" stroke-width="1"/>
<text transform="translate(273.90,503.90) scale(1,1.12)" font-size="9.6" font-weight="bold" fill="#000" stroke="#000" stroke-width="0.25" text-anchor="end">0.48</text>
<line x1="278.5" y1="411.5" x2="277.0" y2="411.5" stroke="#505050" stroke-width="0.8"/>
<line x1="278.5" y1="470.5" x2="277.0" y2="470.5" stroke="#505050" stroke-width="0.8"/>
<text transform="translate(363.60,386.00) scale(1,1.06)" font-size="7.4" font-weight="bold" fill="#2a2ad2" stroke="#2a2ad2" stroke-width="0.15" textLength="40.7" lengthAdjust="spacingAndGlyphs"><tspan font-style="italic">(c/b)</tspan><tspan dx="0.3" dy="-3.6" font-size="4.07">*</tspan><tspan dx="0.5" dy="3.6" font-size="6.66">=</tspan>0.218</text>
<text transform="translate(424.80,390.80) scale(1,1.06)" font-size="7.6" font-weight="bold" fill="#dc1e30" stroke="#dc1e30" stroke-width="0.15"><tspan font-style="italic">ν</tspan><tspan dx="0.91" font-size="6.84">=</tspan><tspan dx="0.2">0.2</tspan></text>
<text transform="translate(424.80,400.90) scale(1,1.06)" font-size="7.6" font-weight="bold" fill="#dc1e30" stroke="#dc1e30" stroke-width="0.15"><tspan font-style="italic">r</tspan><tspan dx="0.91" font-size="6.84">=</tspan><tspan dx="0.2">2</tspan></text>
<text transform="translate(424.80,411.00) scale(1,1.06)" font-size="7.6" font-weight="bold" fill="#dc1e30" stroke="#dc1e30" stroke-width="0.15"><tspan font-style="italic" font-weight="normal" stroke-width="0.3" fill-opacity="0.85">δ</tspan><tspan dx="0.91" font-size="6.84" font-weight="normal" stroke-width="0.3">=</tspan><tspan dx="0.2">0.011</tspan></text>
<text transform="translate(323.30,535.20) scale(1,1.06)" font-size="7.4" font-weight="bold" fill="#000" stroke="#000" stroke-width="0.15" textLength="84.2" lengthAdjust="spacingAndGlyphs">cost-to-benefit ratio <tspan font-style="italic">c/b</tspan></text>
<text transform="translate(250.80,446.70) rotate(-90) scale(1.035,1)" font-size="7.7" font-weight="bold" stroke="#000" stroke-width="0.15" text-anchor="middle">Frequency</text>
<text transform="translate(461.80,370.50) scale(1,1.09)" font-size="12.4" font-weight="bold" fill="#000" stroke="#000" stroke-width="0.3">I</text>
<path d="M515.63,382.48L564.27,414.82M569.93,418.58L618.07,450.52M623.78,454.21L672.52,484.89" fill="none" stroke="#d0283a" stroke-width="1.1"/>
<polygon points="512.80,377.40 513.65,379.43 515.84,379.61 514.18,381.05 514.68,383.19 512.80,382.05 510.92,383.19 511.42,381.05 509.76,379.61 511.95,379.43" fill="#e0101e"/>
<polygon points="567.10,413.50 567.95,415.53 570.14,415.71 568.48,417.15 568.98,419.29 567.10,418.15 565.22,419.29 565.72,417.15 564.06,415.71 566.25,415.53" fill="#e0101e"/>
<polygon points="620.90,449.20 621.75,451.23 623.94,451.41 622.28,452.85 622.78,454.99 620.90,453.85 619.02,454.99 619.52,452.85 617.86,451.41 620.05,451.23" fill="#e0101e"/>
<polygon points="675.40,483.50 676.25,485.53 678.44,485.71 676.78,487.15 677.28,489.29 675.40,488.15 673.52,489.29 674.02,487.15 672.36,485.71 674.55,485.53" fill="#e0101e"/>
<line x1="507.5" y1="452.5" x2="681" y2="452.5" stroke="#333" stroke-width="1"/>
<line x1="620.5" y1="391.9" x2="620.5" y2="506.5" stroke="#4646b0" stroke-width="1.1" stroke-dasharray="3 3"/>
<path d="M507.5,375.9 V506.5 H681" fill="none" stroke="#505050" stroke-width="1"/>
<line x1="512.5" x2="512.5" y1="506.5" y2="509.0" stroke="#505050" stroke-width="1"/>
<text transform="translate(512.70,519.20) scale(1,1.12)" font-size="9.6" font-weight="bold" fill="#000" stroke="#000" stroke-width="0.25" text-anchor="middle">0.19</text>
<line x1="567.5" x2="567.5" y1="506.5" y2="509.0" stroke="#505050" stroke-width="1"/>
<text transform="translate(567.10,519.20) scale(1,1.12)" font-size="9.6" font-weight="bold" fill="#000" stroke="#000" stroke-width="0.25" text-anchor="middle">0.20</text>
<line x1="620.5" x2="620.5" y1="506.5" y2="509.0" stroke="#505050" stroke-width="1"/>
<text transform="translate(620.90,519.20) scale(1,1.12)" font-size="9.6" font-weight="bold" fill="#000" stroke="#000" stroke-width="0.25" text-anchor="middle">0.21</text>
<line x1="675.5" x2="675.5" y1="506.5" y2="509.0" stroke="#505050" stroke-width="1"/>
<text transform="translate(675.40,519.20) scale(1,1.12)" font-size="9.6" font-weight="bold" fill="#000" stroke="#000" stroke-width="0.25" text-anchor="middle">0.22</text>
<line x1="539.5" y1="506.5" x2="539.5" y2="508.0" stroke="#505050" stroke-width="0.8"/>
<line x1="594.5" y1="506.5" x2="594.5" y2="508.0" stroke="#505050" stroke-width="0.8"/>
<line x1="648.5" y1="506.5" x2="648.5" y2="508.0" stroke="#505050" stroke-width="0.8"/>
<line x1="507.5" y1="408.5" x2="505.0" y2="408.5" stroke="#505050" stroke-width="1"/>
<text transform="translate(502.70,411.40) scale(1,1.12)" font-size="9.6" font-weight="bold" fill="#000" stroke="#000" stroke-width="0.25" text-anchor="end">0.51</text>
<line x1="507.5" y1="452.5" x2="505.0" y2="452.5" stroke="#505050" stroke-width="1"/>
<text transform="translate(502.70,455.50) scale(1,1.12)" font-size="9.6" font-weight="bold" fill="#000" stroke="#000" stroke-width="0.25" text-anchor="end">0.50</text>
<line x1="507.5" y1="497.5" x2="505.0" y2="497.5" stroke="#505050" stroke-width="1"/>
<text transform="translate(502.70,500.90) scale(1,1.12)" font-size="9.6" font-weight="bold" fill="#000" stroke="#000" stroke-width="0.25" text-anchor="end">0.49</text>
<line x1="507.5" y1="430.5" x2="506.0" y2="430.5" stroke="#505050" stroke-width="0.8"/>
<line x1="507.5" y1="474.5" x2="506.0" y2="474.5" stroke="#505050" stroke-width="0.8"/>
<line x1="507.5" y1="385.5" x2="506.0" y2="385.5" stroke="#505050" stroke-width="0.8"/>
<text transform="translate(595.60,387.70) scale(1,1.06)" font-size="7.4" font-weight="bold" fill="#2a2ad2" stroke="#2a2ad2" stroke-width="0.15" textLength="53.4" lengthAdjust="spacingAndGlyphs"><tspan font-style="italic">(c/b)</tspan><tspan dx="0.3" dy="-3.6" font-size="4.07">*</tspan><tspan dx="0.5" dy="3.6" font-size="6.66">=</tspan>0.209814</text>
<text transform="translate(654.30,390.80) scale(1,1.06)" font-size="7.6" font-weight="bold" fill="#dc1e30" stroke="#dc1e30" stroke-width="0.15"><tspan font-style="italic">ν</tspan><tspan dx="0.91" font-size="6.84">=</tspan><tspan dx="0.2">0.2</tspan></text>
<text transform="translate(654.30,400.90) scale(1,1.06)" font-size="7.6" font-weight="bold" fill="#dc1e30" stroke="#dc1e30" stroke-width="0.15"><tspan font-style="italic">r</tspan><tspan dx="0.91" font-size="6.84">=</tspan><tspan dx="0.2">3</tspan></text>
<text transform="translate(654.30,410.50) scale(1,1.06)" font-size="7.6" font-weight="bold" fill="#dc1e30" stroke="#dc1e30" stroke-width="0.15"><tspan font-style="italic" font-weight="normal" stroke-width="0.3" fill-opacity="0.85">δ</tspan><tspan dx="0.91" font-size="6.84" font-weight="normal" stroke-width="0.3">=</tspan><tspan dx="0.2">0.01</tspan></text>
<text transform="translate(552.00,535.20) scale(1,1.06)" font-size="7.4" font-weight="bold" fill="#000" stroke="#000" stroke-width="0.15" textLength="84.3" lengthAdjust="spacingAndGlyphs">cost-to-benefit ratio <tspan font-style="italic">c/b</tspan></text>
<text transform="translate(471.60,446.70) rotate(-90) scale(1.035,1)" font-size="7.7" font-weight="bold" stroke="#000" stroke-width="0.15" text-anchor="middle">Frequency</text>
</g>
</svg>
</body></html>
